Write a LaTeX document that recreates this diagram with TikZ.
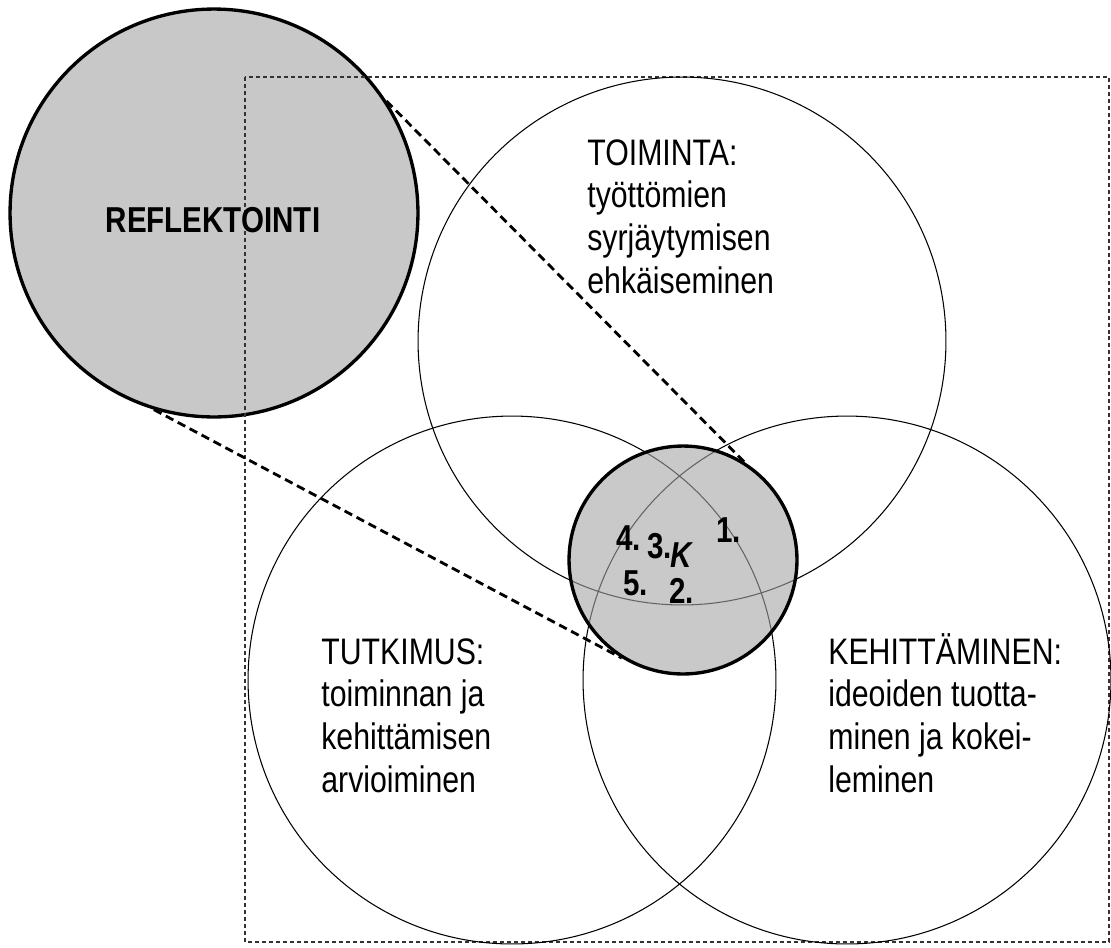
\documentclass[tikz,border=0pt]{standalone}
\usepackage{fontspec}
\setmainfont{Liberation Sans}[FakeStretch=0.82]
\definecolor{harmaa}{RGB}{200,200,200}
\definecolor{kernharmaa}{RGB}{165,165,165}

\begin{document}
\begin{tikzpicture}[x=0.02cm,y=-0.02cm,
    alue/.style={circle,draw,line width=0.6pt,minimum size=10.56cm,inner sep=0},
    teksti/.style={anchor=base west,align=left,inner sep=0,font=\fontsize{21}{24.2}\selectfont},
    numero/.style={anchor=base west,inner sep=0,font=\fontsize{20.5}{22}\selectfont\bfseries},
    katkoviiva/.style={line width=1.6pt,dash pattern=on 0.17cm off 0.1cm}]
    \useasboundingbox (0,0) rectangle (1111,947);
    \node[circle,draw,line width=1.9pt,fill=harmaa,minimum size=8.16cm,inner sep=0] (refl) at (214,213) {};
    \draw[black!80,line width=0.6pt,dash pattern=on 0.08cm off 0.06cm] (245,77) rectangle (1109,942);
    \node[inner sep=0,font=\fontsize{20.5}{24}\selectfont\bfseries] (reflteksti) at (213,220) {REFLEKTOINTI};
    \node[alue] (toiminta) at (682,341) {};
    \node[alue] (tutkimus) at (512,680) {};
    \node[alue] (kehittaminen) at (847,680) {};
    \node[circle,draw,line width=1.9pt,fill=kernharmaa,fill opacity=0.6,minimum size=4.56cm,inner sep=0] (kern) at (683,560) {};
    \draw[katkoviiva] (refl.33) -- (kern.58);
    \draw[katkoviiva] (refl.253) -- (kern.238);
    \node[teksti] (toimintateksti) at (587,293) {TOIMINTA:\\työttömien\\syrjäytymisen\\ehkäiseminen};
    \node[teksti] (tutkimusteksti) at (321,792) {TUTKIMUS:\\toiminnan ja\\kehittämisen\\arvioiminen};
    \node[teksti] (kehittamisteksti) at (828,792) {KEHITTÄMINEN:\\ideoiden tuotta-\\minen ja kokei-\\leminen};
    \node[numero] (n1) at (716,542) {1.};
    \node[numero] (n4) at (616,550) {4.};
    \node[numero] (n3) at (647,558) {3.};
    \node[numero,font=\fontsize{20.5}{22}\selectfont\bfseries\itshape] (k) at (670,567) {K};
    \node[numero] (n5) at (623,595) {5.};
    \node[numero] (n2) at (669,603) {2.};
\end{tikzpicture}
\end{document}
